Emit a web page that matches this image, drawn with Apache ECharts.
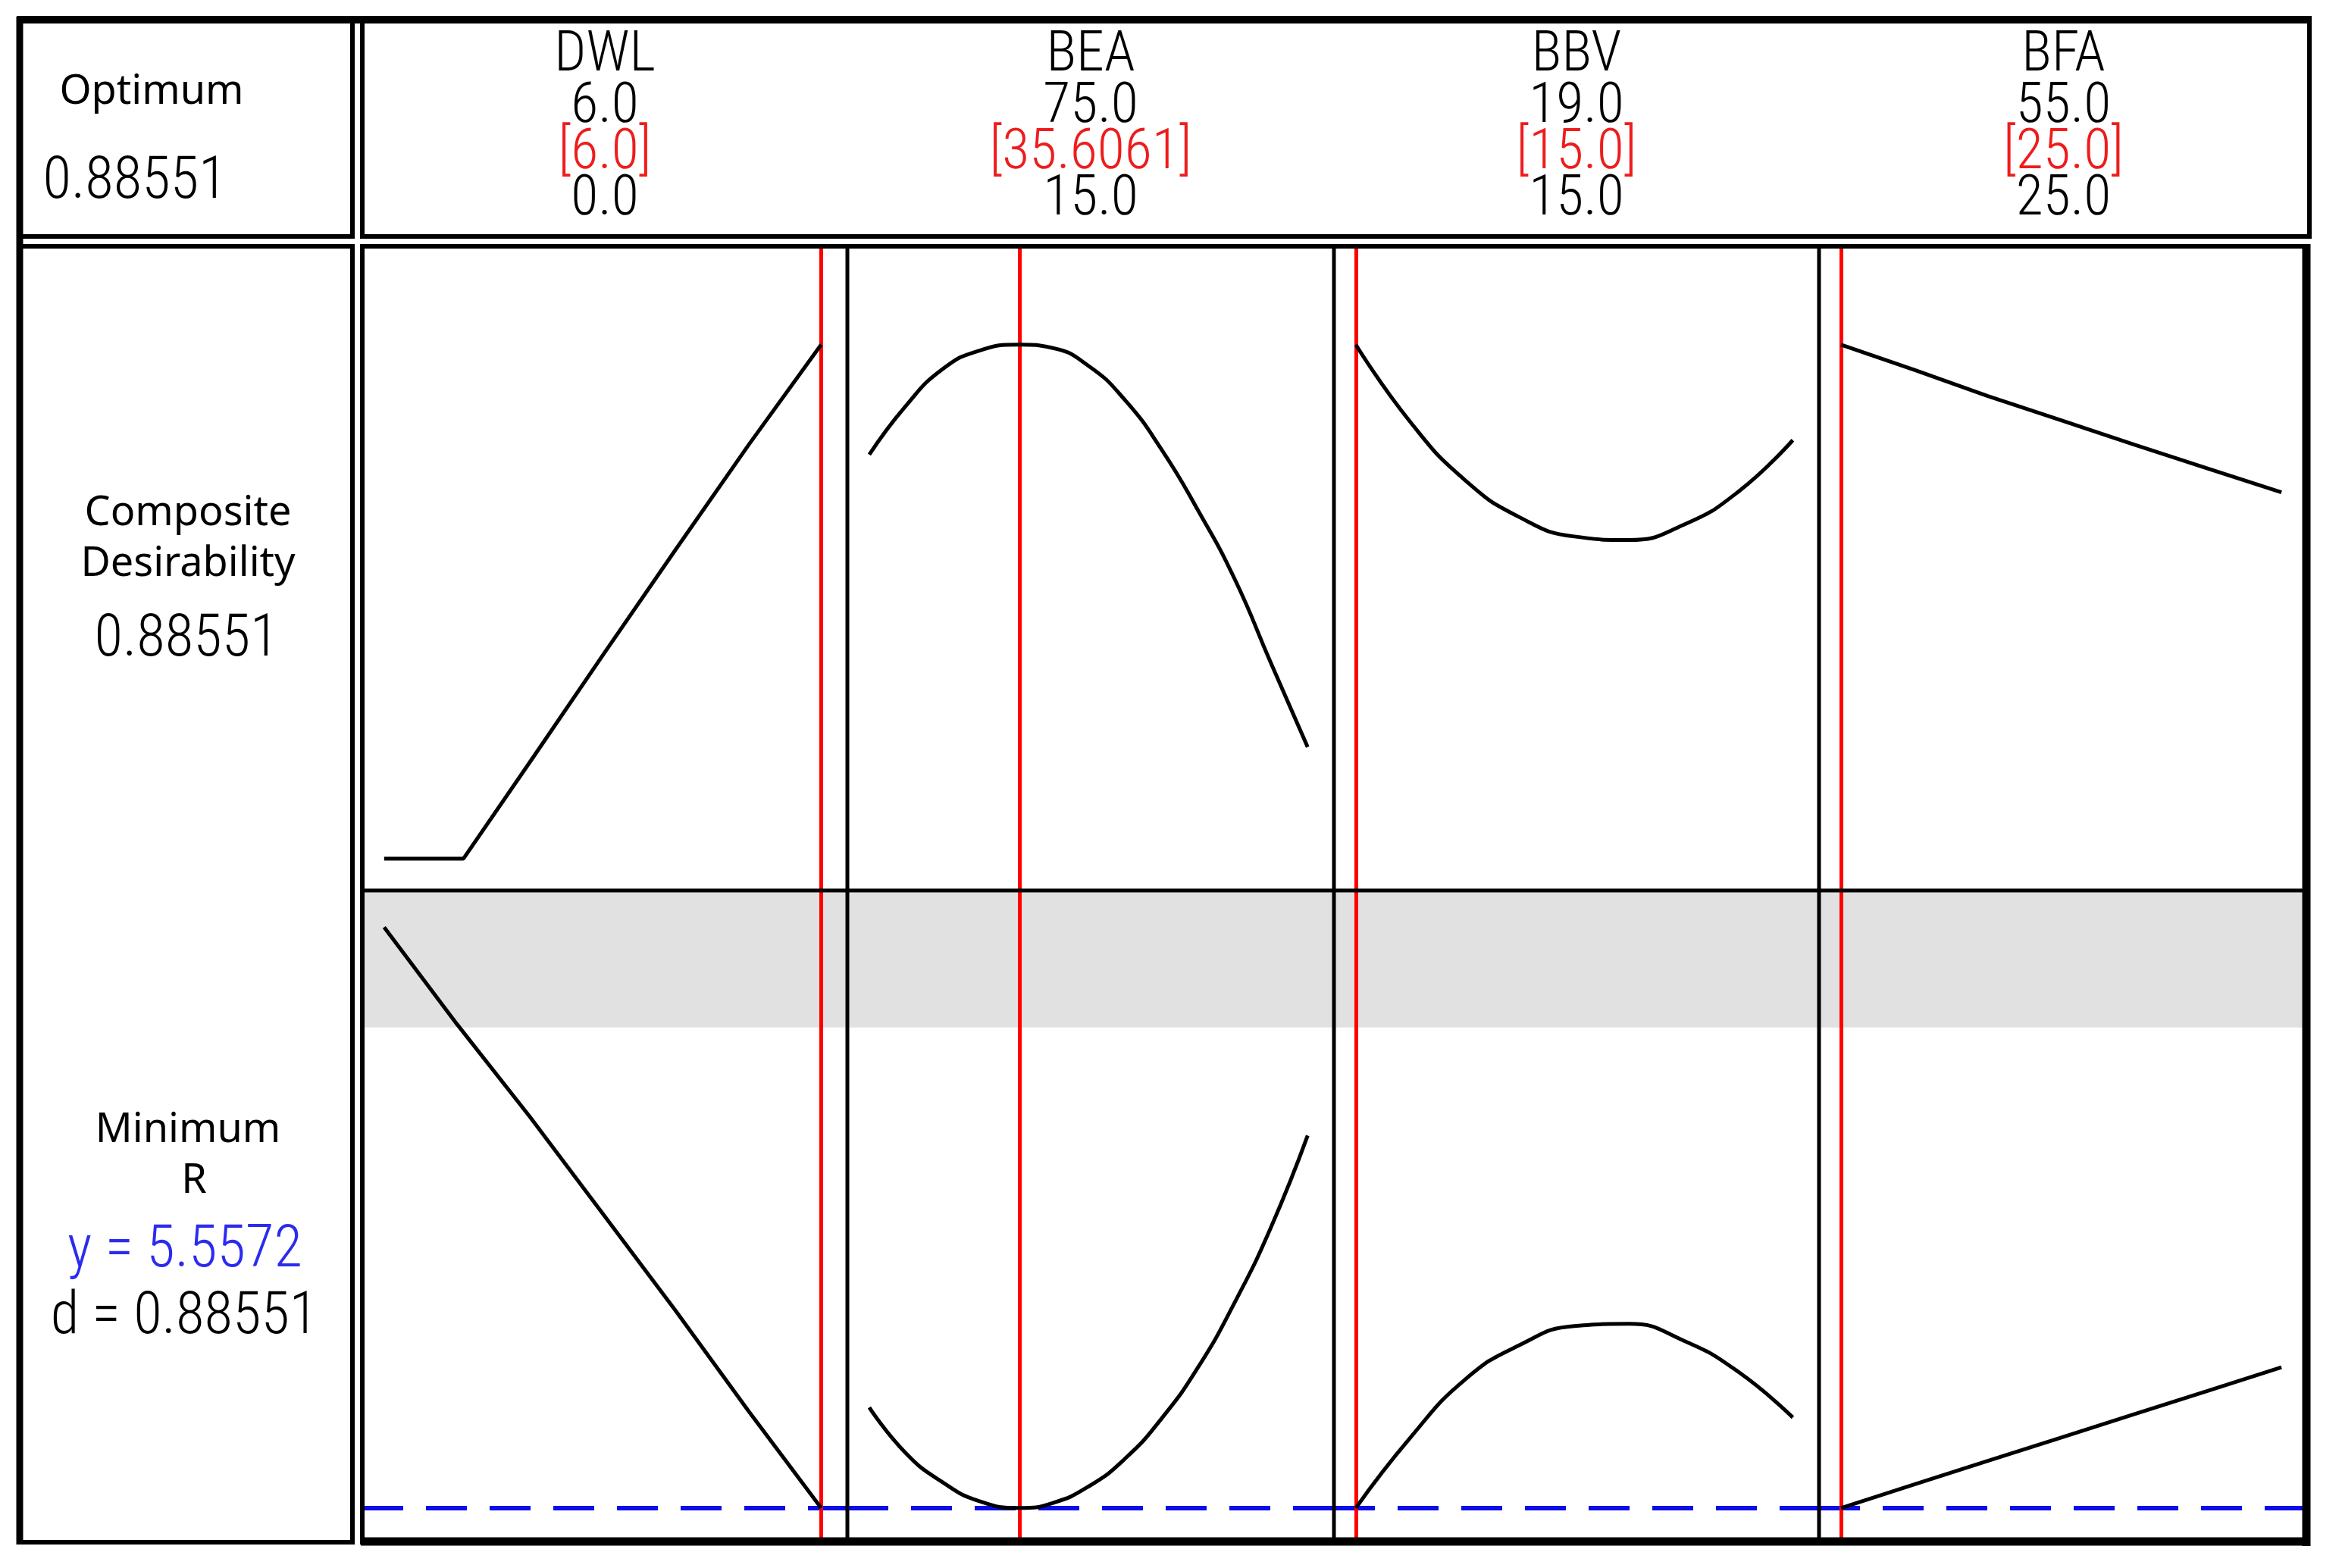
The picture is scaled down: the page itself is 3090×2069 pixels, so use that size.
<!DOCTYPE html>
<html>
<head>
<meta charset="utf-8">
<script src="https://cdn.jsdelivr.net/npm/echarts@6/dist/echarts.min.js"></script>
<style>
  html, body { margin: 0; padding: 0; background: #fff; }
  #main { width: 3090px; height: 2069px; }
</style>
</head>
<body>
<div id="main"></div>
<script>
// factor settings (header)
const factorNames = ['DWL', 'BEA', 'BBV', 'BFA']
const highLabels = ['6.0', '75.0', '19.0', '55.0']
const curLabels = ['[6.0]', '[35.6061]', '[15.0]', '[25.0]']
const lowLabels = ['0.0', '15.0', '15.0', '25.0']
const lowBound = [0, 15, 15, 25]
const highBound = [6, 75, 19, 55]
const optimum = [6.0, 35.6061, 15.0, 25.0]

// composite desirability (top row)
const dwlDX = [0, 1.09, 2, 3, 4, 5, 6]
const dwlD = [0, 0, 0.166, 0.350, 0.532, 0.712, 0.8855]
const beaX = [15, 20, 25, 30, 35.6061, 40, 45, 50, 55, 60, 65, 70, 75]
const beaD = [0.696, 0.78, 0.843, 0.875, 0.8855, 0.88, 0.849, 0.79, 0.705, 0.60, 0.482, 0.336, 0.192]
const bbvX = [15, 15.5, 16, 16.5, 17, 17.5, 18, 18.5, 19]
const bbvD = [0.8855, 0.752, 0.652, 0.588, 0.555, 0.549, 0.575, 0.632, 0.721]
const bfaX = [25, 30, 35, 40, 45, 50, 55]
const bfaD = [0.8855, 0.842, 0.797, 0.755, 0.713, 0.672, 0.631]

// response R (bottom row)
const dwlRX = [0, 1, 2, 3, 4, 5, 6]
const dwlR = [10.77, 9.90, 9.07, 8.20, 7.33, 6.43, 5.5572]
const beaR = [6.46, 6.05, 5.79, 5.62, 5.5572, 5.60, 5.75, 6.00, 6.36, 6.82, 7.40, 8.08, 8.90]
const bbvR = [5.5572, 6.19, 6.71, 7.02, 7.19, 7.21, 7.06, 6.78, 6.37]
const bfaR = [5.5572, 5.77, 5.98, 6.19, 6.40, 6.61, 6.82]

const yTarget = 5.5572
const rUpper = 9.87
const dRange = [-0.055, 1.055]
const rRange = [5.25, 11.10]

const topCurves = [[dwlDX, dwlD], [beaX, beaD], [bbvX, bbvD], [bfaX, bfaD]]
const botCurves = [[dwlRX, dwlR], [beaX, beaR], [bbvX, bbvR], [bfaX, bfaR]]
const smoothCol = [false, true, true, false]

const colEdges = [478, 1118, 1760, 2400, 3045]
const rowEdges = [325, 1175, 2035]

const pairs = (xs, ys) => xs.map((x, i) => [x, ys[i]])

let grid = [], xAxis = [], yAxis = [], series = []
for (let r = 0; r < 2; r++) {
    for (let c = 0; c < 4; c++) {
        let idx = r * 4 + c
        let span = highBound[c] - lowBound[c]
        grid.push({
            left: colEdges[c], top: rowEdges[r],
            width: colEdges[c + 1] - colEdges[c],
            height: rowEdges[r + 1] - rowEdges[r],
            show: false
        })
        xAxis.push({
            type: 'value', gridIndex: idx,
            min: lowBound[c] - span * 0.05,
            max: highBound[c] + span * 0.06,
            axisLine: { show: false }, axisTick: { show: false },
            axisLabel: { show: false }, splitLine: { show: false }
        })
        yAxis.push({
            type: 'value', gridIndex: idx,
            min: r === 0 ? dRange[0] : rRange[0],
            max: r === 0 ? dRange[1] : rRange[1],
            axisLine: { show: false }, axisTick: { show: false },
            axisLabel: { show: false }, splitLine: { show: false }
        })
        let cur = r === 0 ? topCurves[c] : botCurves[c]
        let lines = [{ xAxis: optimum[c], lineStyle: { color: '#ff0000', width: 5, type: 'solid' } }]
        if (r === 1) {
            lines.unshift({ yAxis: yTarget, lineStyle: { color: '#0c0ce6', width: 6, type: [54, 30] } })
        }
        series.push({
            type: 'line', xAxisIndex: idx, yAxisIndex: idx,
            data: pairs(cur[0], cur[1]),
            smooth: smoothCol[c] ? 0.5 : false,
            showSymbol: false, symbol: 'none',
            lineStyle: { color: '#000', width: 5 },
            z: 5,
            markLine: {
                silent: true, symbol: 'none', label: { show: false },
                data: lines
            },
            markArea: r === 1 ? {
                silent: true,
                itemStyle: { color: '#e1e1e1' },
                data: [[{ yAxis: rUpper }, { yAxis: rRange[1] }]]
            } : undefined
        })
    }
}

// frame lines and table text
const bk = '#000'
const num = '300 74px "Liberation Sans Narrow", "Roboto Condensed", "DejaVu Sans Condensed", Roboto, sans-serif'
const num2 = '300 77px "Liberation Sans Narrow", "Roboto Condensed", "DejaVu Sans Condensed", Roboto, sans-serif'
const lab = '54px "Noto Sans", "Open Sans", sans-serif'
const txt = (x, y, text, font, fill) => ({
    type: 'text', x: x, y: y, z: 50,
    style: { text: text, font: font, fill: fill || '#000', textAlign: 'center', textVerticalAlign: 'middle', align: 'center', verticalAlign: 'middle' }
})
const ln = (x1, y1, x2, y2, w) => ({
    type: 'line', z: 40, shape: { x1: x1, y1: y1, x2: x2, y2: y2 },
    style: { stroke: bk, lineWidth: w }
})
const box = (x, y, w, h, lw) => ({
    type: 'rect', z: 40, shape: { x: x, y: y, width: w, height: h },
    style: { fill: 'none', stroke: bk, lineWidth: lw }
})

let graphic = [
    box(25, 25, 440, 287, 6),
    box(478, 25, 2569, 287, 6),
    box(25, 325, 440, 1710, 6),
    box(478, 325, 2567, 1710, 6),
    ln(22, 26, 3050, 26, 10),
    ln(26, 22, 26, 2038, 9),
    ln(3043, 322, 3043, 2040, 11),
    ln(476, 2034, 3048, 2034, 11),
    ln(478, 1175, 3045, 1175, 5),
    ln(1118, 325, 1118, 2035, 5),
    ln(1760, 325, 1760, 2035, 5),
    ln(2400, 325, 2400, 2035, 5),
    txt(200, 122, 'Optimum', lab),
    txt(178, 242, '0.88551', num2),
    txt(246, 846, '0.88551', num2),
    txt(248, 678, 'Composite', lab),
    txt(248, 745, 'Desirability', lab),
    txt(248, 1492, 'Minimum', lab),
    txt(256, 1559, 'R', lab),
    txt(244, 1652, 'y = 5.5572', num2, '#2b2bef'),
    txt(243, 1740, 'd = 0.88551', num2)
]
for (let c = 0; c < 4; c++) {
    let cx = (colEdges[c] + colEdges[c + 1]) / 2
    graphic.push(txt(cx, 74, factorNames[c], num))
    graphic.push(txt(cx, 142, highLabels[c], num))
    graphic.push(txt(cx, 203, curLabels[c], num, '#ee1c1c'))
    graphic.push(txt(cx, 264, lowLabels[c], num))
}

let Charts = echarts.init(document.getElementById('main'))
Charts.setOption({
    animation: false,
    backgroundColor: '#fff',
    grid: grid,
    xAxis: xAxis,
    yAxis: yAxis,
    series: series,
    graphic: graphic
})
</script>
</body>
</html>
